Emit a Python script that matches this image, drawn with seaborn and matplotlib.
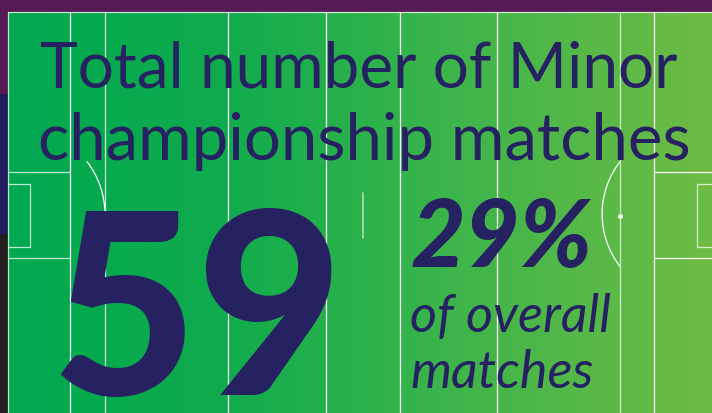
import numpy as np
import seaborn as sns
import matplotlib.pyplot as plt
from matplotlib.colors import LinearSegmentedColormap
from matplotlib.patches import Arc, Rectangle

# infographic values
title_lines = ["Total number of Minor", "championship matches"]
minor_matches = 59
share_pct = 29
share_caption = ["of overall", "matches"]

sns.set_theme(style="white")
plt.rcParams["font.family"] = ["Lato", "DejaVu Sans"]

NAVY = "#262262"
W, H = 712, 414

fig = plt.figure(figsize=(W / 100, H / 100), dpi=100)
fig.patch.set_facecolor("#561b55")

# green gradient panel drawn as a one-row seaborn heatmap
px0, py0 = 8, 13
bg = fig.add_axes([px0 / W, 0, (W - px0) / W, (H - py0) / H])
grad = np.linspace(0, 1, 200)[None, :]
green = LinearSegmentedColormap.from_list(
    "pitch", [(0, "#00a84f"), (0.3, "#0fab4d"), (0.65, "#3fb54a"), (1, "#6dbb44")])
sns.heatmap(grad, cmap=green, cbar=False, ax=bg, xticklabels=False, yticklabels=False)
bg.set_axis_off()

# overlay axes in pixel coordinates for pitch lines and text
ax = fig.add_axes([0, 0, 1, 1])
ax.set_xlim(0, W)
ax.set_ylim(H, 0)
ax.set_axis_off()
ax.patch.set_alpha(0)

# left strip of neighbouring panels
ax.add_patch(Rectangle((0, 95), px0, 140, color="#1f1d5c", lw=0))
ax.add_patch(Rectangle((0, 235), px0, 180, color="#231f20", lw=0))

lc = dict(color="white", lw=0.9)
lc2 = dict(color="white", lw=0.9, alpha=0.75)
ax.plot([px0, W], [py0, py0], **lc2)
ax.plot([px0, px0], [py0, H], **lc2)
for x in [70, 228, 326, 400, 497, 654]:
    ax.plot([x, x], [py0, H], **lc)
for x in [105, 620]:
    ax.plot([x, x], [py0, H], **lc2)
# left boxes
ax.plot([px0, 70], [173, 173], **lc2)
ax.plot([px0, 70], [259, 259], **lc2)
ax.plot([px0, 30, 30, px0], [185, 185, 248, 248], **lc2)
# right boxes
ax.plot([654, W], [173, 173], **lc)
ax.plot([654, W], [259, 259], **lc)
ax.plot([W, 697, 697, W], [185, 185, 248, 248], **lc2)
# arcs and marks
ax.add_patch(Arc((19.4, 215), 171, 171, theta1=-38, theta2=38, color="white", lw=0.9))
ax.add_patch(Arc((687.6, 215), 171, 171, theta1=142, theta2=218, color="white", lw=0.9))
ax.plot([363, 363], [194, 239], color="white", lw=1.2, alpha=0.6)
ax.scatter([620], [217], s=6, color="white", zorder=3)

# text
ax.text(40, 88, title_lines[0], color=NAVY, fontsize=46, va="baseline", ha="left")
ax.text(38, 160, title_lines[1], color=NAVY, fontsize=47, va="baseline", ha="left")
ax.text(50, 395, str(minor_matches), color=NAVY, fontsize=182, fontweight="black",
        va="baseline", ha="left")
ax.text(410, 267, f"{share_pct}%", color=NAVY, fontsize=68, fontweight="black",
        style="italic", va="baseline", ha="left")
ax.text(410, 332, share_caption[0], color=NAVY, fontsize=37.5, style="italic",
        va="baseline", ha="left")
ax.text(410, 388, share_caption[1], color=NAVY, fontsize=37.5, style="italic",
        va="baseline", ha="left")

fig.savefig("out.png", dpi=100)
